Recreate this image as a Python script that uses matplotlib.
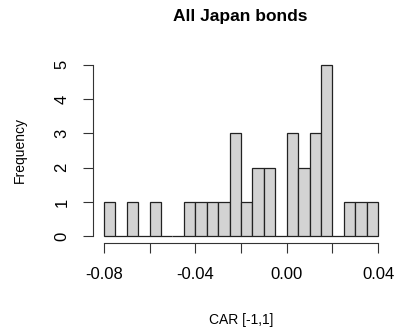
#!/usr/bin/env python3
"""
Histogram of cumulative abnormal returns for Japanese bonds.
Draws R-style bars with 0.005-wide bins over [-0.08, 0.04].
"""

import numpy as np
import matplotlib
matplotlib.use("Agg")
import matplotlib.pyplot as plt

# Bin layout and counts per bin (left to right)
bin_start = -0.08
bin_width = 0.005
counts = [1, 0, 1, 0, 1, 0, 0, 1, 1, 1, 1, 3,
          1, 2, 2, 0, 3, 2, 3, 5, 0, 1, 1, 1]

x_ticks = [-0.08, -0.04, 0.00, 0.04]
x_ticks_minor = [-0.06, -0.02, 0.02]
y_ticks = [0, 1, 2, 3, 4, 5]

title = "All Japan bonds"
x_label = "CAR [-1,1]"
y_label = "Frequency"


def main():
    plt.rcParams["font.family"] = ["Liberation Sans", "DejaVu Sans"]

    fig = plt.figure(figsize=(3.97, 3.33), dpi=100)
    ax = fig.add_axes([93 / 397, 90 / 333, 296 / 397, 185 / 333])

    edges = bin_start + bin_width * np.arange(len(counts) + 1)
    ax.bar(edges[:-1], counts, width=bin_width, align="edge",
           color="#d3d3d3", edgecolor="#222222", linewidth=0.9)

    lo, hi = edges[0], edges[-1]
    pad = 0.04 * (hi - lo)
    ax.set_xlim(lo - pad, hi + pad)
    ax.set_ylim(-0.04 * max(counts), max(counts) * 1.04)

    # R-style axes: no box, axis lines span only the tick range
    for side in ("top", "right"):
        ax.spines[side].set_visible(False)
    ax.spines["left"].set_bounds(y_ticks[0], y_ticks[-1])
    ax.spines["bottom"].set_bounds(x_ticks[0], x_ticks[-1])
    for side in ("left", "bottom"):
        ax.spines[side].set_linewidth(0.8)
        ax.spines[side].set_color("#333333")

    all_x = sorted(x_ticks + x_ticks_minor)
    ax.set_xticks(all_x)
    ax.set_xticklabels([f"{t:.2f}" if t in x_ticks else "" for t in all_x])
    ax.set_yticks(y_ticks)
    ax.set_yticklabels([str(t) for t in y_ticks], rotation=90, va="center")
    ax.tick_params(axis="both", length=7, width=0.8, color="#333333",
                   labelsize=12, pad=10)

    fig.text(240 / 397, 1 - 17 / 333, title, ha="center", va="center",
             fontsize=12.5, fontweight="bold")
    fig.text(241 / 397, 1 - 320 / 333, x_label, ha="center", va="center",
             fontsize=10)
    fig.text(20 / 397, 1 - 150 / 333, y_label, ha="center", va="center",
             rotation=90, fontsize=10)

    fig.savefig("out.png", dpi=100)


if __name__ == "__main__":
    main()
